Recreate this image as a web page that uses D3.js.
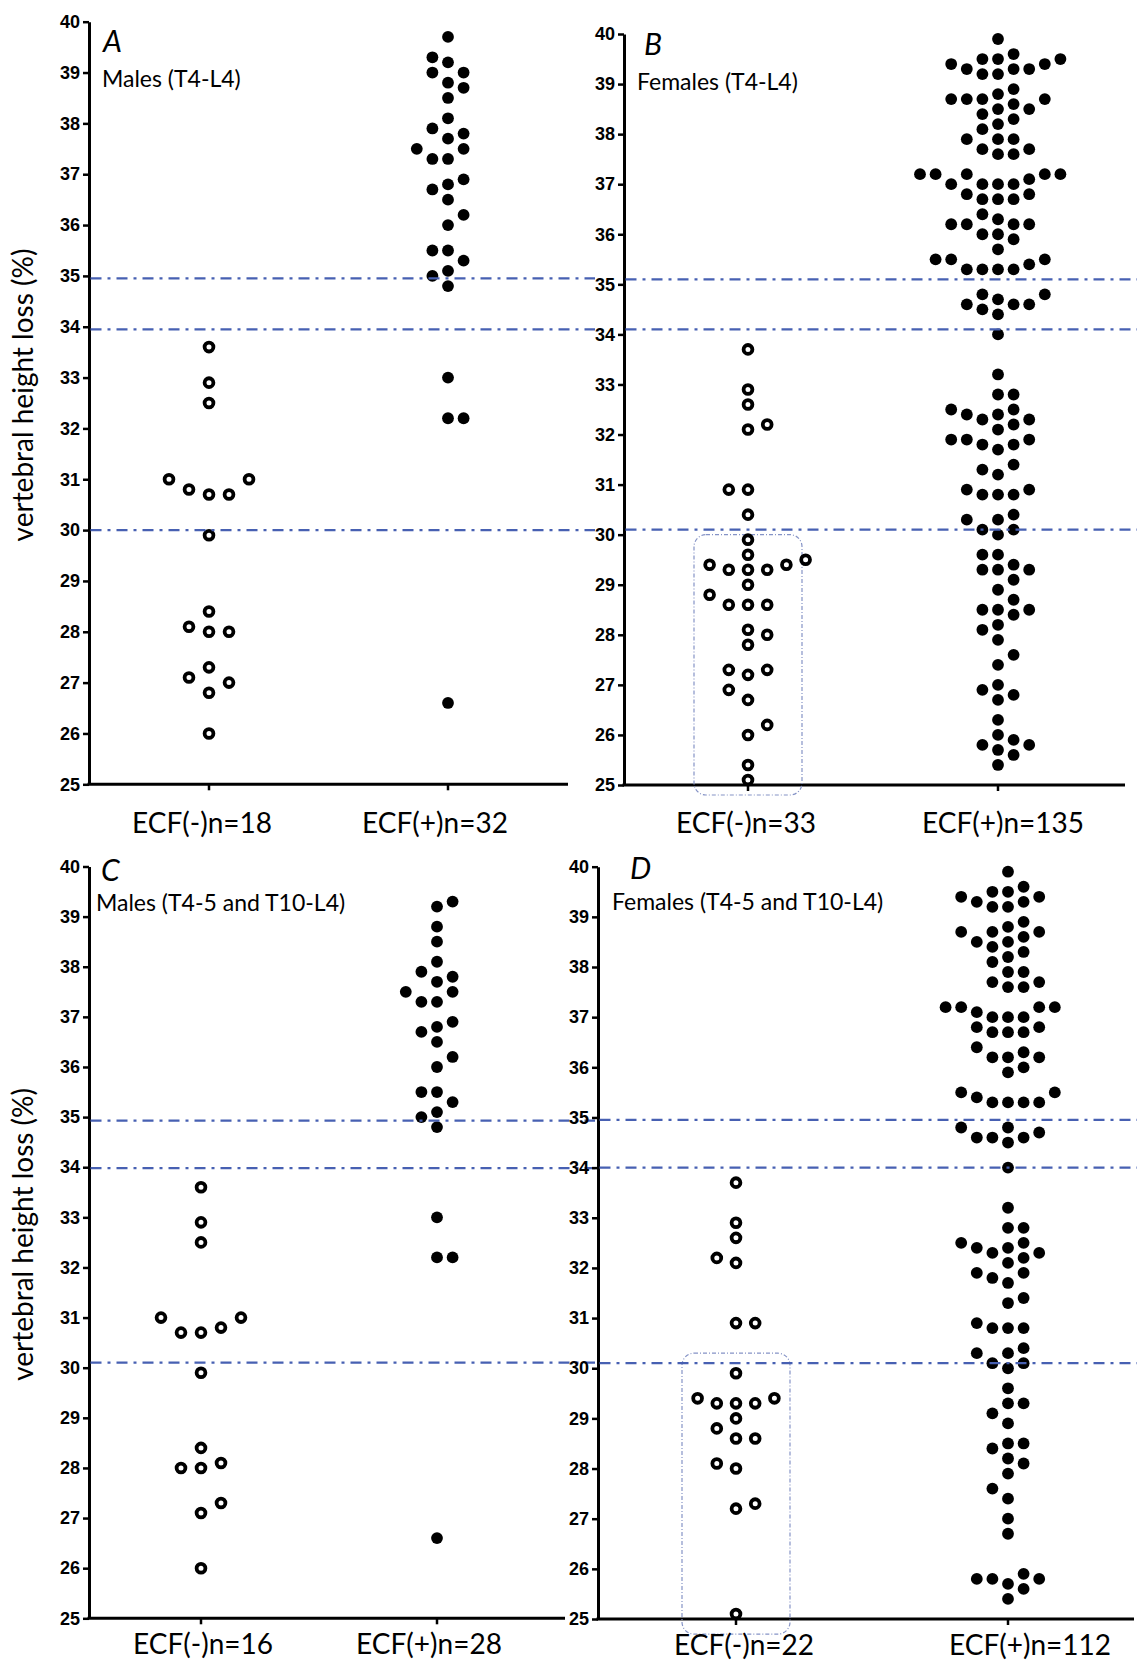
<!DOCTYPE html>
<html>
<head>
<meta charset="utf-8">
<script src="https://cdn.jsdelivr.net/npm/d3@7"></script>
<style>
  body { margin: 0; background: #fff; }
  svg { display: block; }
  .lab { font-family: Lato, "Open Sans", sans-serif; fill: #000; }
</style>
</head>
<body>
<div id="chart"></div>
<script>
// values (vertebral height loss, %)
var groups = ["ECF(-)", "ECF(+)"];
var yTicks = [25, 26, 27, 28, 29, 30, 31, 32, 33, 34, 35, 36, 37, 38, 39, 40];

var aNeg = [33.6, 32.9, 32.5, 31.0, 30.8, 30.7, 30.7, 31.0, 29.9, 28.4, 28.0, 28.0, 28.1,
            27.3, 27.0, 27.1, 26.8, 26.0];
var aPos = [39.7, 39.2, 39.3, 39.0, 39.0, 38.7, 38.8, 38.5, 38.1, 37.8, 37.9, 37.7, 37.5,
            37.5, 37.3, 37.3, 36.8, 36.9, 36.7, 36.5, 36.2, 36.0, 35.5, 35.5, 35.3, 35.0,
            35.1, 34.8, 33.0, 32.2, 32.2, 26.6];
var bNeg = [33.7, 32.9, 32.6, 32.2, 32.1, 30.9, 30.9, 30.4, 29.9, 29.6, 29.3, 29.4, 29.3,
            29.4, 29.3, 29.5, 29.0, 28.8, 28.6, 28.6, 28.6, 28.1, 28.0, 27.8, 27.3, 27.3,
            27.2, 26.9, 26.7, 26.2, 26.0, 25.4, 25.1];
var bPos = [39.9, 39.5, 39.5, 39.4, 39.3, 39.2, 39.3, 39.2, 39.3, 39.4, 39.5, 39.6, 38.9,
            38.8, 38.7, 38.7, 38.5, 38.5, 38.4, 38.6, 38.7, 38.7, 38.3, 38.1, 38.2, 37.9,
            37.9, 37.9, 37.7, 37.6, 37.6, 37.7, 37.2, 37.2, 37.1, 37.2, 37.2, 37.2, 37.0,
            37.0, 37.0, 37.0, 36.8, 36.7, 36.7, 36.7, 36.8, 36.4, 36.3, 36.2, 36.2, 36.2,
            36.2, 36.0, 36.0, 35.9, 35.7, 35.5, 35.4, 35.3, 35.3, 35.3, 35.3, 35.5, 35.5,
            34.8, 34.8, 34.6, 34.6, 34.4, 34.5, 34.6, 34.7, 34.0,
            33.2, 32.8, 32.8, 32.5, 32.5, 32.4, 32.3, 32.2, 32.3, 32.4, 32.1, 31.9, 31.9,
            31.8, 31.7, 31.8, 31.9, 31.4, 31.2, 31.3, 30.9, 30.8, 30.8, 30.8, 30.9, 30.4,
            30.3, 30.3, 30.1, 30.1, 30.0, 29.6, 29.6, 29.4, 29.3, 29.3, 29.3, 29.1, 28.9,
            28.7, 28.5, 28.5, 28.5, 28.4, 28.2, 28.1, 27.9, 27.6, 27.4, 27.0, 26.9, 26.8,
            26.7, 26.3, 26.0, 25.9, 25.7, 25.8, 25.8, 25.6, 25.4];
var cNeg = [33.6, 32.9, 32.5, 31.0, 30.7, 30.7, 30.8, 31.0, 29.9, 28.4, 28.1, 28.0, 28.0,
            27.3, 27.1, 26.0];
var cPos = [39.3, 39.2, 38.8, 38.5, 38.1, 37.8, 37.9, 37.7, 37.5, 37.5, 37.3, 37.3, 36.9,
            36.8, 36.7, 36.5, 36.2, 36.0, 35.5, 35.5, 35.3, 35.0, 35.1, 34.8, 33.0, 32.2,
            32.2, 26.6];
var dNeg = [33.7, 32.9, 32.6, 32.1, 32.2, 30.9, 30.9, 29.9, 29.3, 29.4, 29.3, 29.4, 29.3,
            29.0, 28.8, 28.6, 28.6, 28.0, 28.1, 27.3, 27.2, 25.1];
var dPos = [39.9, 39.5, 39.4, 39.3, 39.2, 39.3, 39.2, 39.4, 39.5, 39.6, 38.9, 38.7, 38.7,
            38.7, 38.8, 38.5, 38.5, 38.6, 38.3, 38.4, 38.2, 38.1, 37.9, 37.9, 37.7, 37.7,
            37.6, 37.6, 37.2, 37.2, 37.2, 37.2, 37.1, 37.0, 37.0, 37.0, 36.8, 36.7, 36.7,
            36.7, 36.8, 36.4, 36.3, 36.2, 36.2, 36.2, 36.0, 35.9, 35.5, 35.5, 35.4, 35.3,
            35.3, 35.3, 35.3, 34.8, 34.8, 34.6, 34.6, 34.5, 34.6, 34.7, 34.0,
            33.2, 32.8, 32.8, 32.5, 32.5, 32.4, 32.4, 32.3, 32.3, 32.2, 32.1, 31.9, 31.9,
            31.8, 31.7, 31.4, 31.3, 30.8, 30.8, 30.8, 30.9, 30.4, 30.3, 30.3, 30.1, 30.1,
            30.0, 29.6, 29.3, 29.3, 29.1, 28.9, 28.5, 28.5, 28.4, 28.2, 28.1, 27.9, 27.6,
            27.4, 27.0, 26.7, 25.8, 25.7, 25.8, 25.9, 25.6, 25.4, 25.8];

// cut-off lines in each panel
var linesA = [34.95, 33.95, 30.0];
var linesB = [35.1, 34.1, 30.1];
var linesC = [34.93, 33.98, 30.1];
var linesD = [34.95, 34.0, 30.1];

// value span of the dotted boxes round the ECF(-) points
var boxB = [24.8, 30.0];
var boxD = [24.7, 30.3];

var W = 1137, H = 1665;
var lineColour = "#4760b2";

// swarm spacing: step between slots, and the min gap across / along the value axis
var wideOpen = {step: 20, sx: 19, sy: 16};
var tightOpen = {step: 9.6, sx: 18.5, sy: 12};
var filled = {step: 7.8, sx: 15, sy: 12};

// layout of the four panels
var panels = [
  {letter: "A", title: "Males (T4-L4)", neg: aNeg, pos: aPos, lines: linesA, box: null,
   x0: 89, x1: 568, yTop: 21.7, yBot: 784.3, cols: [209, 448], lineEnd: 595,
   negSwarm: wideOpen, yTitle: true, letterXY: [14, 30], titleXY: [13, 65],
   labelDx: [-7, -13], labelY: 833},
  {letter: "B", title: "Females (T4-L4)", neg: bNeg, pos: bPos, lines: linesB, box: boxB,
   x0: 624, x1: 1125, yTop: 34, yBot: 785, cols: [748, 998], lineEnd: 1137,
   negSwarm: tightOpen, yTitle: false, letterXY: [20, 21], titleXY: [13, 56],
   labelDx: [-2, 5], labelY: 833},
  {letter: "C", title: "Males (T4-5 and T10-L4)", neg: cNeg, pos: cPos, lines: linesC, box: null,
   x0: 89, x1: 565, yTop: 866.5, yBot: 1618.3, cols: [201, 437], lineEnd: 595,
   negSwarm: wideOpen, yTitle: true, letterXY: [12, 14], titleXY: [7, 44],
   labelDx: [2, -8], labelY: 1654},
  {letter: "D", title: "Females (T4-5 and T10-L4)", neg: dNeg, pos: dPos, lines: linesD, box: boxD,
   x0: 598, x1: 1134, yTop: 866.7, yBot: 1619, cols: [736, 1008], lineEnd: 1137,
   negSwarm: tightOpen, yTitle: false, letterXY: [32, 12], titleXY: [14, 43],
   labelDx: [8, 22], labelY: 1655}
];

var svg = d3.select("#chart").append("svg")
  .attr("width", W)
  .attr("height", H);

// beeswarm: lowest values first, each point takes the nearest free slot
function swarm(values, cx, y, opt){
  var placed = [];
  var side = 1;
  values.slice().sort(function(a, b){ return a - b; }).forEach(function(v){
    var py = y(v);
    for (var k = 0; k < 60; k++){
      var offs = k === 0 ? [0] : [side*k, -side*k];
      var hit = null;
      for (var j = 0; j < offs.length; j++){
        var px = cx + offs[j]*opt.step;
        var free = placed.every(function(p){
          var dx = (p.x - px)/opt.sx, dy = (p.y - py)/opt.sy;
          return dx*dx + dy*dy >= 0.999;
        });
        if (free){ hit = px; break; }
      }
      if (hit !== null){
        if (k > 0) side = -side;
        placed.push({v: v, x: hit, y: py});
        break;
      }
    }
  });
  return placed;
}

panels.forEach(function(p){
  var g = svg.append("g");

  var y = d3.scaleLinear().domain([25, 40]).range([p.yBot, p.yTop]);
  var x = d3.scalePoint().domain(groups).range(p.cols).padding(0);

  // y axis
  var yAxis = g.append("g")
    .attr("transform", "translate(" + p.x0 + ",0)")
    .call(d3.axisLeft(y).tickValues(yTicks).tickSize(6).tickSizeOuter(0).tickPadding(3));
  yAxis.select(".domain").attr("stroke", "#000").attr("stroke-width", 3);
  yAxis.selectAll(".tick line").attr("stroke", "#000").attr("stroke-width", 2.5);
  yAxis.selectAll(".tick text")
    .style("font-family", "'Liberation Sans', Arial, sans-serif")
    .style("font-weight", "bold")
    .style("font-size", "18px")
    .attr("fill", "#000");

  // x axis line and ticks
  g.append("line")
    .attr("x1", p.x0 - 1.5).attr("x2", p.x1)
    .attr("y1", p.yBot).attr("y2", p.yBot)
    .attr("stroke", "#000").attr("stroke-width", 3);
  g.selectAll(".xtick").data(groups).enter().append("line")
    .attr("x1", function(d){ return x(d); }).attr("x2", function(d){ return x(d); })
    .attr("y1", p.yBot).attr("y2", p.yBot + 6)
    .attr("stroke", "#000").attr("stroke-width", 2.5);

  // dotted box
  if (p.box){
    g.append("rect")
      .attr("x", x(groups[0]) - 54)
      .attr("y", y(p.box[1]))
      .attr("width", 108)
      .attr("height", y(p.box[0]) - y(p.box[1]))
      .attr("rx", 12)
      .attr("fill", "none")
      .attr("stroke", "#8593c6")
      .attr("stroke-width", 1.2)
      .attr("stroke-dasharray", "4,2,1,2");
  }

  // ECF(-): open circles
  g.selectAll(".neg").data(swarm(p.neg, x(groups[0]), y, p.negSwarm))
    .enter().append("circle")
    .attr("cx", function(d){ return d.x; })
    .attr("cy", function(d){ return d.y; })
    .attr("r", 4.4)
    .attr("fill", "#fff")
    .attr("stroke", "#000")
    .attr("stroke-width", 3.8);

  // ECF(+): filled dots
  g.selectAll(".pos").data(swarm(p.pos, x(groups[1]), y, filled))
    .enter().append("circle")
    .attr("cx", function(d){ return d.x; })
    .attr("cy", function(d){ return d.y; })
    .attr("r", 5.9)
    .attr("fill", "#000");

  // cut-off lines
  g.selectAll(".cut").data(p.lines).enter().append("line")
    .attr("x1", p.x0 + 1.5).attr("x2", p.lineEnd)
    .attr("y1", function(d){ return y(d); }).attr("y2", function(d){ return y(d); })
    .attr("stroke", lineColour)
    .attr("stroke-width", 2.2)
    .attr("stroke-dasharray", "11,6,3,6");

  // texts
  g.append("text").attr("class", "lab")
    .attr("x", p.x0 + p.letterXY[0]).attr("y", p.yTop + p.letterXY[1])
    .style("font-size", "30px").style("font-style", "italic")
    .text(p.letter);
  g.append("text").attr("class", "lab")
    .attr("x", p.x0 + p.titleXY[0]).attr("y", p.yTop + p.titleXY[1])
    .style("font-size", "23px")
    .text(p.title);

  var counts = [p.neg.length, p.pos.length];
  g.selectAll(".xlab").data(groups).enter().append("text")
    .attr("class", "lab")
    .attr("x", function(d, i){ return x(d) + p.labelDx[i]; })
    .attr("y", p.labelY)
    .attr("text-anchor", "middle")
    .style("font-size", "28px")
    .text(function(d, i){ return d + "n=" + counts[i]; });

  if (p.yTitle){
    g.append("text").attr("class", "lab")
      .attr("transform", "translate(33," + ((p.yTop + p.yBot)/2 - 8) + ") rotate(-90)")
      .attr("text-anchor", "middle")
      .style("font-size", "28px")
      .text("vertebral height loss (%)");
  }
});
</script>
</body>
</html>
